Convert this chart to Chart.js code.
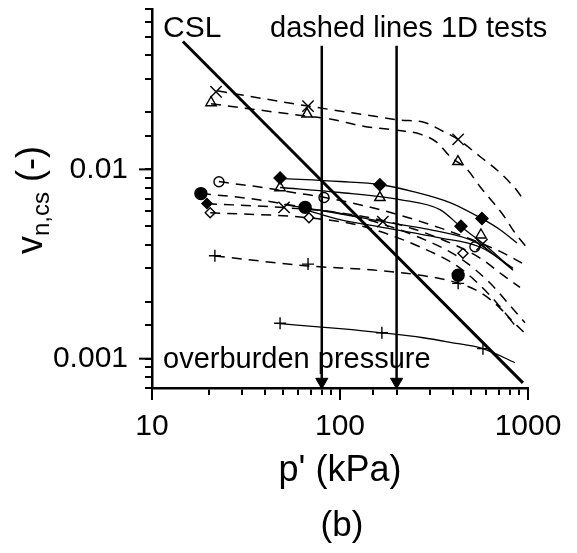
<!DOCTYPE html>
<html>
<head>
<meta charset="utf-8">
<script src="https://cdn.jsdelivr.net/npm/chart.js@4.4.0/dist/chart.umd.min.js"></script>
<style>
html,body{margin:0;padding:0;background:#fff;}
#wrap{width:577px;height:553px;position:relative;}
</style>
</head>
<body>
<div id="wrap"><canvas id="Chart"></canvas></div>
<script>
// tick labels
const xTickLabels = [10, 100, 1000];
const yTickLabels = [0.001, 0.01];

// markers, p' (kPa) and v_n,cs (-)
const crossP = [21.9, 67.6, 425, 50.4, 169, 569];
const crossV = [0.0257, 0.0216, 0.0144, 0.0063, 0.0053, 0.0040];
const triP = [20.6, 66.8, 424, 48, 163, 562];
const triV = [0.0225, 0.0196, 0.0110, 0.0080, 0.0071, 0.0045];
const diaP = [48, 163, 569, 440, 19.6];
const diaV = [0.0090, 0.0083, 0.0055, 0.0050, 0.0066];
const openDiaP = [20.4, 68.4, 451];
const openDiaV = [0.0059, 0.00555, 0.0036];
const openCircP = [22.7, 82.2, 522];
const openCircV = [0.0086, 0.0071, 0.0039];
const dotP = [18.2, 65.2, 425];
const dotV = [0.00745, 0.0063, 0.00276];
const plusP = [21.6, 67.6, 425, 48, 167, 576];
const plusV = [0.0035, 0.00316, 0.0025, 0.00154, 0.00137, 0.00113];

// dashed lines (1D tests)
const dashXP = [22.2, 67.6, 163, 208, 276, 353, 424, 555, 710, 885, 964];
const dashXV = [0.0260, 0.0216, 0.0189, 0.0182, 0.0178, 0.0159, 0.0144, 0.0117, 0.0096, 0.0076, 0.0067];
const dashTP = [20.6, 66.8, 88.4, 133, 201, 267, 328, 385, 474, 556, 613, 736, 853, 988];
const dashTV = [0.0222, 0.0191, 0.01845, 0.0169, 0.0161, 0.01535, 0.0139, 0.0117, 0.0100, 0.0081, 0.0072, 0.00576, 0.00462, 0.00385];
const dash1P = [22.7, 29.4, 39, 52.3, 66.8, 83.2, 163, 340, 556, 736, 929];
const dash1V = [0.00863, 0.00832, 0.00802, 0.00764, 0.00736, 0.0071, 0.00613, 0.00491, 0.00409, 0.00362, 0.0032];
const dash2P = [18.2, 33.2, 65.2, 128, 267, 435, 628, 802, 964];
const dash2V = [0.00745, 0.00701, 0.00628, 0.00555, 0.00435, 0.0034, 0.00251, 0.00191, 0.00155];
const dash3P = [19.6, 50.4, 100, 208, 385, 556, 736, 907];
const dash3V = [0.00659, 0.00628, 0.0059, 0.0051, 0.00409, 0.0034, 0.00276, 0.00238];
const dash4P = [20.4, 68.4, 128, 267, 435, 628, 802, 964];
const dash4V = [0.0059, 0.00555, 0.00504, 0.00389, 0.00301, 0.00216, 0.00163, 0.00136];
const dash5P = [21.6, 67.6, 150, 267, 424, 556, 710, 853];
const dash5V = [0.00349, 0.00309, 0.00294, 0.00276, 0.00251, 0.00224, 0.00185, 0.0015];

// solid lines
const solid1P = [48, 100, 163, 245, 385, 569, 710, 874];
const solid1V = [0.00896, 0.00863, 0.00832, 0.00764, 0.00668, 0.00549, 0.0048, 0.00409];
const solid2P = [48, 100, 208, 340, 440, 590, 832];
const solid2V = [0.00802, 0.00755, 0.00692, 0.00613, 0.00497, 0.00399, 0.00294];
const solid3P = [50.4, 100, 169, 301, 536, 832];
const solid3V = [0.00651, 0.00583, 0.00529, 0.0048, 0.00409, 0.00294];
const solid4P = [65.2, 100, 150, 340, 556, 832];
const solid4V = [0.00613, 0.00542, 0.00504, 0.00435, 0.00389, 0.00301];
const solid5P = [48, 100, 167, 277, 385, 576, 853];
const solid5V = [0.00153, 0.00144, 0.00137, 0.00129, 0.00122, 0.00113, 0.000952];

// critical state line
const cslP = [14.6, 940];
const cslV = [0.0474, 0.000745];

// overburden pressure arrows
const arrowP = [80, 200];
const arrowTop = 0.045;
const arrowTip = 0.000755;

const FONT = "'Liberation Sans', Arial, sans-serif";

function pts(ps, vs) {
    return ps.map((p, i) => ({x: p, y: vs[i]}));
}

var datasets = [];

function addMarks(ps, vs, style, r, filled, rot) {
    datasets.push({
        data: pts(ps, vs),
        showLine: false,
        pointStyle: style,
        pointRadius: r,
        pointHoverRadius: r,
        pointBorderColor: "#000",
        pointBackgroundColor: filled ? "#000" : "rgba(0,0,0,0)",
        pointBorderWidth: 1.4,
        pointRotation: rot || 0,
        order: 0
    });
}

function addLine(ps, vs, dashed, w) {
    datasets.push({
        data: pts(ps, vs),
        showLine: true,
        borderColor: "#000",
        borderWidth: w,
        borderDash: dashed ? [10, 7] : [],
        pointRadius: 0,
        cubicInterpolationMode: "monotone",
        fill: false,
        order: 2
    });
}

addMarks(crossP, crossV, "crossRot", 8, false);
addMarks(triP, triV, "triangle", 6, false);
addMarks(diaP, diaV, "rectRot", [6, 6, 6, 6, 5], true);
addMarks(openDiaP, openDiaV, "rectRot", 5, false);
addMarks(openCircP, openCircV, "circle", 5, false);
addMarks(dotP, dotV, "circle", 6, true);
addMarks(plusP, plusV, "cross", 6, false);

addLine(dashXP, dashXV, true, 1.5);
addLine(dashTP, dashTV, true, 1.5);
addLine(dash1P, dash1V, true, 1.5);
addLine(dash2P, dash2V, true, 1.5);
addLine(dash3P, dash3V, true, 1.5);
addLine(dash4P, dash4V, true, 1.5);
addLine(dash5P, dash5V, true, 1.5);
addLine(solid1P, solid1V, false, 1.3);
addLine(solid2P, solid2V, false, 1.3);
addLine(solid3P, solid3V, false, 1.3);
addLine(solid4P, solid4V, false, 1.3);
addLine(solid5P, solid5V, false, 1.3);
addLine(cslP, cslV, false, 3);

arrowP.forEach(p => {
    datasets.push({
        data: [{x: p, y: arrowTop}, {x: p, y: arrowTip}],
        showLine: true,
        borderColor: "#000",
        borderWidth: 2.5,
        pointStyle: "triangle",
        pointRadius: [0, 7],
        pointRotation: 180,
        pointBackgroundColor: "#000",
        pointBorderColor: "#000",
        pointBorderWidth: 1,
        clip: false,
        order: 1
    });
});

function findLabel(list, v) {
    let t = list.find(l => Math.abs(v / l - 1) < 1e-6);
    return t === undefined ? "" : String(t);
}

// texts, longer major ticks, y title
const decor = {
    id: "decor",
    afterDraw(chart) {
        const ctx = chart.ctx;
        const xs = chart.scales.x, ys = chart.scales.y;
        const area = chart.chartArea;
        ctx.save();
        ctx.strokeStyle = "#000";
        ctx.lineWidth = 2;
        xTickLabels.forEach(v => {
            let px = xs.getPixelForValue(v);
            ctx.beginPath(); ctx.moveTo(px, area.bottom); ctx.lineTo(px, area.bottom + 12); ctx.stroke();
        });
        yTickLabels.forEach(v => {
            let py = ys.getPixelForValue(v);
            ctx.beginPath(); ctx.moveTo(area.left, py); ctx.lineTo(area.left - 13, py); ctx.stroke();
        });

        ctx.fillStyle = "#000";
        ctx.textBaseline = "alphabetic";
        ctx.textAlign = "left";
        ctx.font = "30px " + FONT;
        ctx.fillText("CSL", 163, 37);
        ctx.font = "29px " + FONT;
        ctx.fillText("dashed lines 1D tests", 270, 37);
        ctx.fillText("overburden pressure", 163, 368);

        ctx.textAlign = "center";
        ctx.font = "36px " + FONT;
        ctx.fillText("p' (kPa)", 340, 481);
        ctx.font = "35px " + FONT;
        ctx.fillText("(b)", 342, 536);

        // y title with subscript
        ctx.translate(42, 200);
        ctx.rotate(-Math.PI / 2);
        ctx.textAlign = "left";
        const big = "36px " + FONT, small = "24px " + FONT;
        ctx.font = big; let w1 = ctx.measureText("v").width;
        ctx.font = small; let w2 = ctx.measureText("n,cs").width;
        ctx.font = big; let w3 = ctx.measureText(" (-)").width;
        let x0 = -(w1 + w2 + w3) / 2;
        ctx.font = big; ctx.fillText("v", x0, 0);
        ctx.font = small; ctx.fillText("n,cs", x0 + w1, 7);
        ctx.font = big; ctx.fillText(" (-)", x0 + w1 + w2, 0);
        ctx.restore();
    }
};

var myChart = new Chart(document.getElementById("Chart"), {
    type: "scatter",
    data: {datasets: datasets},
    options: {
        responsive: true,
        maintainAspectRatio: false,
        animation: false,
        events: [],
        layout: {padding: {left: 0, right: 49, top: 9, bottom: 45}},
        plugins: {legend: {display: false}, tooltip: {enabled: false}},
        scales: {
            x: {
                type: "logarithmic",
                min: 10,
                max: 1000,
                border: {display: true, color: "#000", width: 2.5},
                grid: {drawOnChartArea: false, drawTicks: true, tickLength: 7, color: "#000", lineWidth: 2},
                ticks: {
                    autoSkip: false, maxRotation: 0, color: "#000", padding: 14,
                    font: {family: FONT, size: 30},
                    callback: v => findLabel(xTickLabels, v)
                },
                afterFit: s => { s.height = 120; s.paddingLeft = 0; s.paddingRight = 0; }
            },
            y: {
                type: "logarithmic",
                min: 0.0007,
                max: 0.07,
                border: {display: true, color: "#000", width: 2.5},
                grid: {drawOnChartArea: false, drawTicks: true, tickLength: 7, color: "#000", lineWidth: 2},
                ticks: {
                    autoSkip: false, color: "#000", padding: 17,
                    font: {family: FONT, size: 30},
                    callback: v => findLabel(yTickLabels, v)
                },
                afterFit: s => { s.width = 152; s.paddingTop = 0; s.paddingBottom = 0; }
            }
        }
    },
    plugins: [decor]
});
</script>
</body>
</html>
